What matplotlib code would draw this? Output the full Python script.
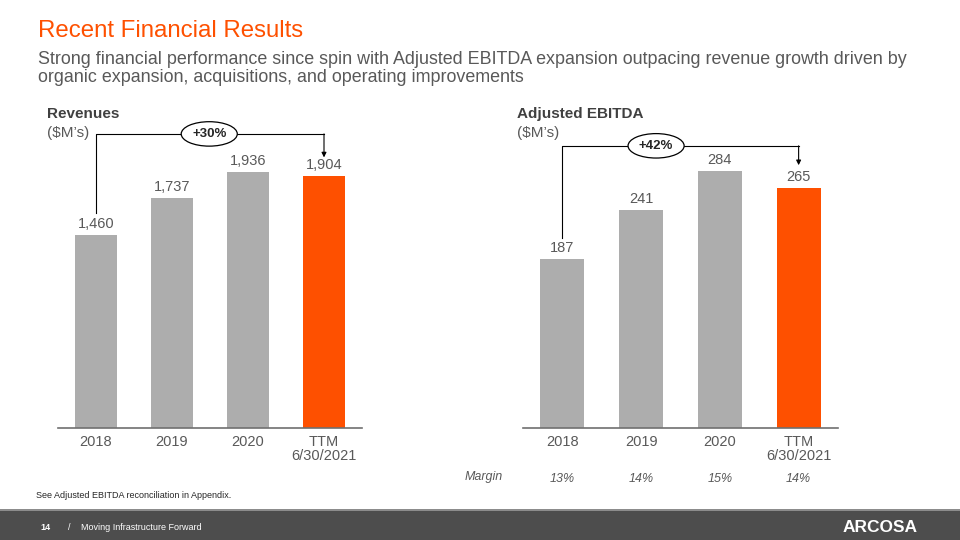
import matplotlib.pyplot as plt
from matplotlib.patches import Rectangle

plt.rcParams['font.family'] = ['Liberation Sans', 'DejaVu Sans']

# data
periods = ['2018', '2019', '2020', 'TTM\n6/30/2021']
revenues = [1460, 1737, 1936, 1904]
ebitda = [187, 241, 284, 265]
margins = ['13%', '14%', '15%', '14%']
rev_growth = '+30%'
ebitda_growth = '+42%'

ORANGE = '#fe5000'
GREY_BAR = '#adadad'
TXT = '#595959'

W, H = 960, 540
fig = plt.figure(figsize=(W / 100, H / 100), dpi=100)


def px_axes(x0, y0, x1, y1):
    # pixel box (top-left origin) -> figure fraction
    return fig.add_axes([x0 / W, 1 - y1 / H, (x1 - x0) / W, (y1 - y0) / H])


def bar_panel(ax, values, ymax, growth, lvl, drop, arrow_end, ell_x):
    colors = [GREY_BAR] * (len(values) - 1) + [ORANGE]
    xs = range(len(values))
    ax.bar(xs, values, width=0.56, color=colors, zorder=2)
    ax.set_xlim(-0.5, len(values) - 0.5)
    ax.set_ylim(0, ymax)
    for s in ['top', 'right', 'left']:
        ax.spines[s].set_visible(False)
    ax.spines['bottom'].set_color('#707070')
    ax.spines['bottom'].set_linewidth(1.2)
    ax.set_yticks([])
    ax.set_xticks(list(xs))
    ax.set_xticklabels(periods, fontsize=10.5, color=TXT, linespacing=1.05)
    ax.tick_params(axis='x', length=0, pad=5)
    for x, v in zip(xs, values):
        ax.annotate(f'{v:,}', (x, v), xytext=(0, 3), textcoords='offset points',
                    ha='center', va='bottom', fontsize=10.5, color=TXT)
    # growth bracket
    top = max(values) * lvl
    ax.plot([0, 0, len(values) - 1], [values[0] * drop, top, top],
            color='black', lw=0.8, clip_on=False, zorder=3)
    ax.annotate('', xy=(len(values) - 1, values[-1] * arrow_end),
                xytext=(len(values) - 1, top),
                arrowprops=dict(arrowstyle='-|>', color='black', lw=0.8,
                                mutation_scale=7, shrinkA=0, shrinkB=0),
                annotation_clip=False)
    ax.text(ell_x, top, growth, ha='center', va='center', fontsize=9.5,
            fontweight='bold', color='#262626', zorder=4,
            bbox=dict(boxstyle='ellipse,pad=0.2', fc='white', ec='black', lw=0.9))


ax1 = px_axes(58, 100, 362, 428)
bar_panel(ax1, revenues, 2481, rev_growth, 1.149, 1.114, 1.075, 1.49)

ax2 = px_axes(523, 100, 838, 428)
bar_panel(ax2, ebitda, 362.8, ebitda_growth, 1.099, 1.123, 1.097, 1.19)

# margin row under the EBITDA chart
for x, m in enumerate(margins):
    ax2.annotate(m, (x, 0), xytext=(0, -36.75), textcoords='offset points',
                 xycoords=('data', 'axes fraction'), ha='center', va='center',
                 fontsize=9, style='italic', color=TXT, annotation_clip=False)
fig.text(484 / W, 1 - 477 / H, 'Margin', ha='center', va='center',
         fontsize=9, style='italic', color=TXT)

# headers
fig.text(38 / W, 1 - 31 / H, 'Recent Financial Results', fontsize=17.3,
         color=ORANGE, va='center')
fig.text(38 / W, 1 - 59 / H, 'Strong financial performance since spin with Adjusted EBITDA '
         'expansion outpacing revenue growth driven by', fontsize=12.9, color=TXT, va='center')
fig.text(38 / W, 1 - 78 / H, 'organic expansion, acquisitions, and operating improvements',
         fontsize=12.9, color=TXT, va='center')

fig.text(47 / W, 1 - 114 / H, 'Revenues', fontsize=11, fontweight='bold',
         color='#404040', va='center')
fig.text(47 / W, 1 - 133 / H, '($M\u2019s)', fontsize=11, color=TXT, va='center')
fig.text(517 / W, 1 - 114 / H, 'Adjusted EBITDA', fontsize=11, fontweight='bold',
         color='#404040', va='center')
fig.text(517 / W, 1 - 133 / H, '($M\u2019s)', fontsize=11, color=TXT, va='center')

fig.text(36 / W, 1 - 496 / H, 'See Adjusted EBITDA reconciliation in Appendix.',
         fontsize=6.5, color='#262626', va='center')

# footer band
fig.patches.append(Rectangle((0, 0), 1, 29 / H, transform=fig.transFigure,
                             fc='#4d4d4d', ec='none', zorder=0))
fig.patches.append(Rectangle((0, 29 / H), 1, 2 / H, transform=fig.transFigure,
                             fc='#8c8c8c', ec='none', zorder=0))
fig.text(40 / W, 1 - 527 / H, '14', fontsize=6.5, fontweight='bold', color='white', va='center')
fig.text(68 / W, 1 - 527 / H, '/', fontsize=6.5, color='white', va='center')
fig.text(81 / W, 1 - 527 / H, 'Moving Infrastructure Forward', fontsize=6.5,
         color='white', va='center')
fig.text(918 / W, 1 - 527 / H, 'ARCOSA', fontsize=12.5, fontweight='bold',
         color='white', va='center', ha='right')

fig.savefig('out.png', dpi=100)
